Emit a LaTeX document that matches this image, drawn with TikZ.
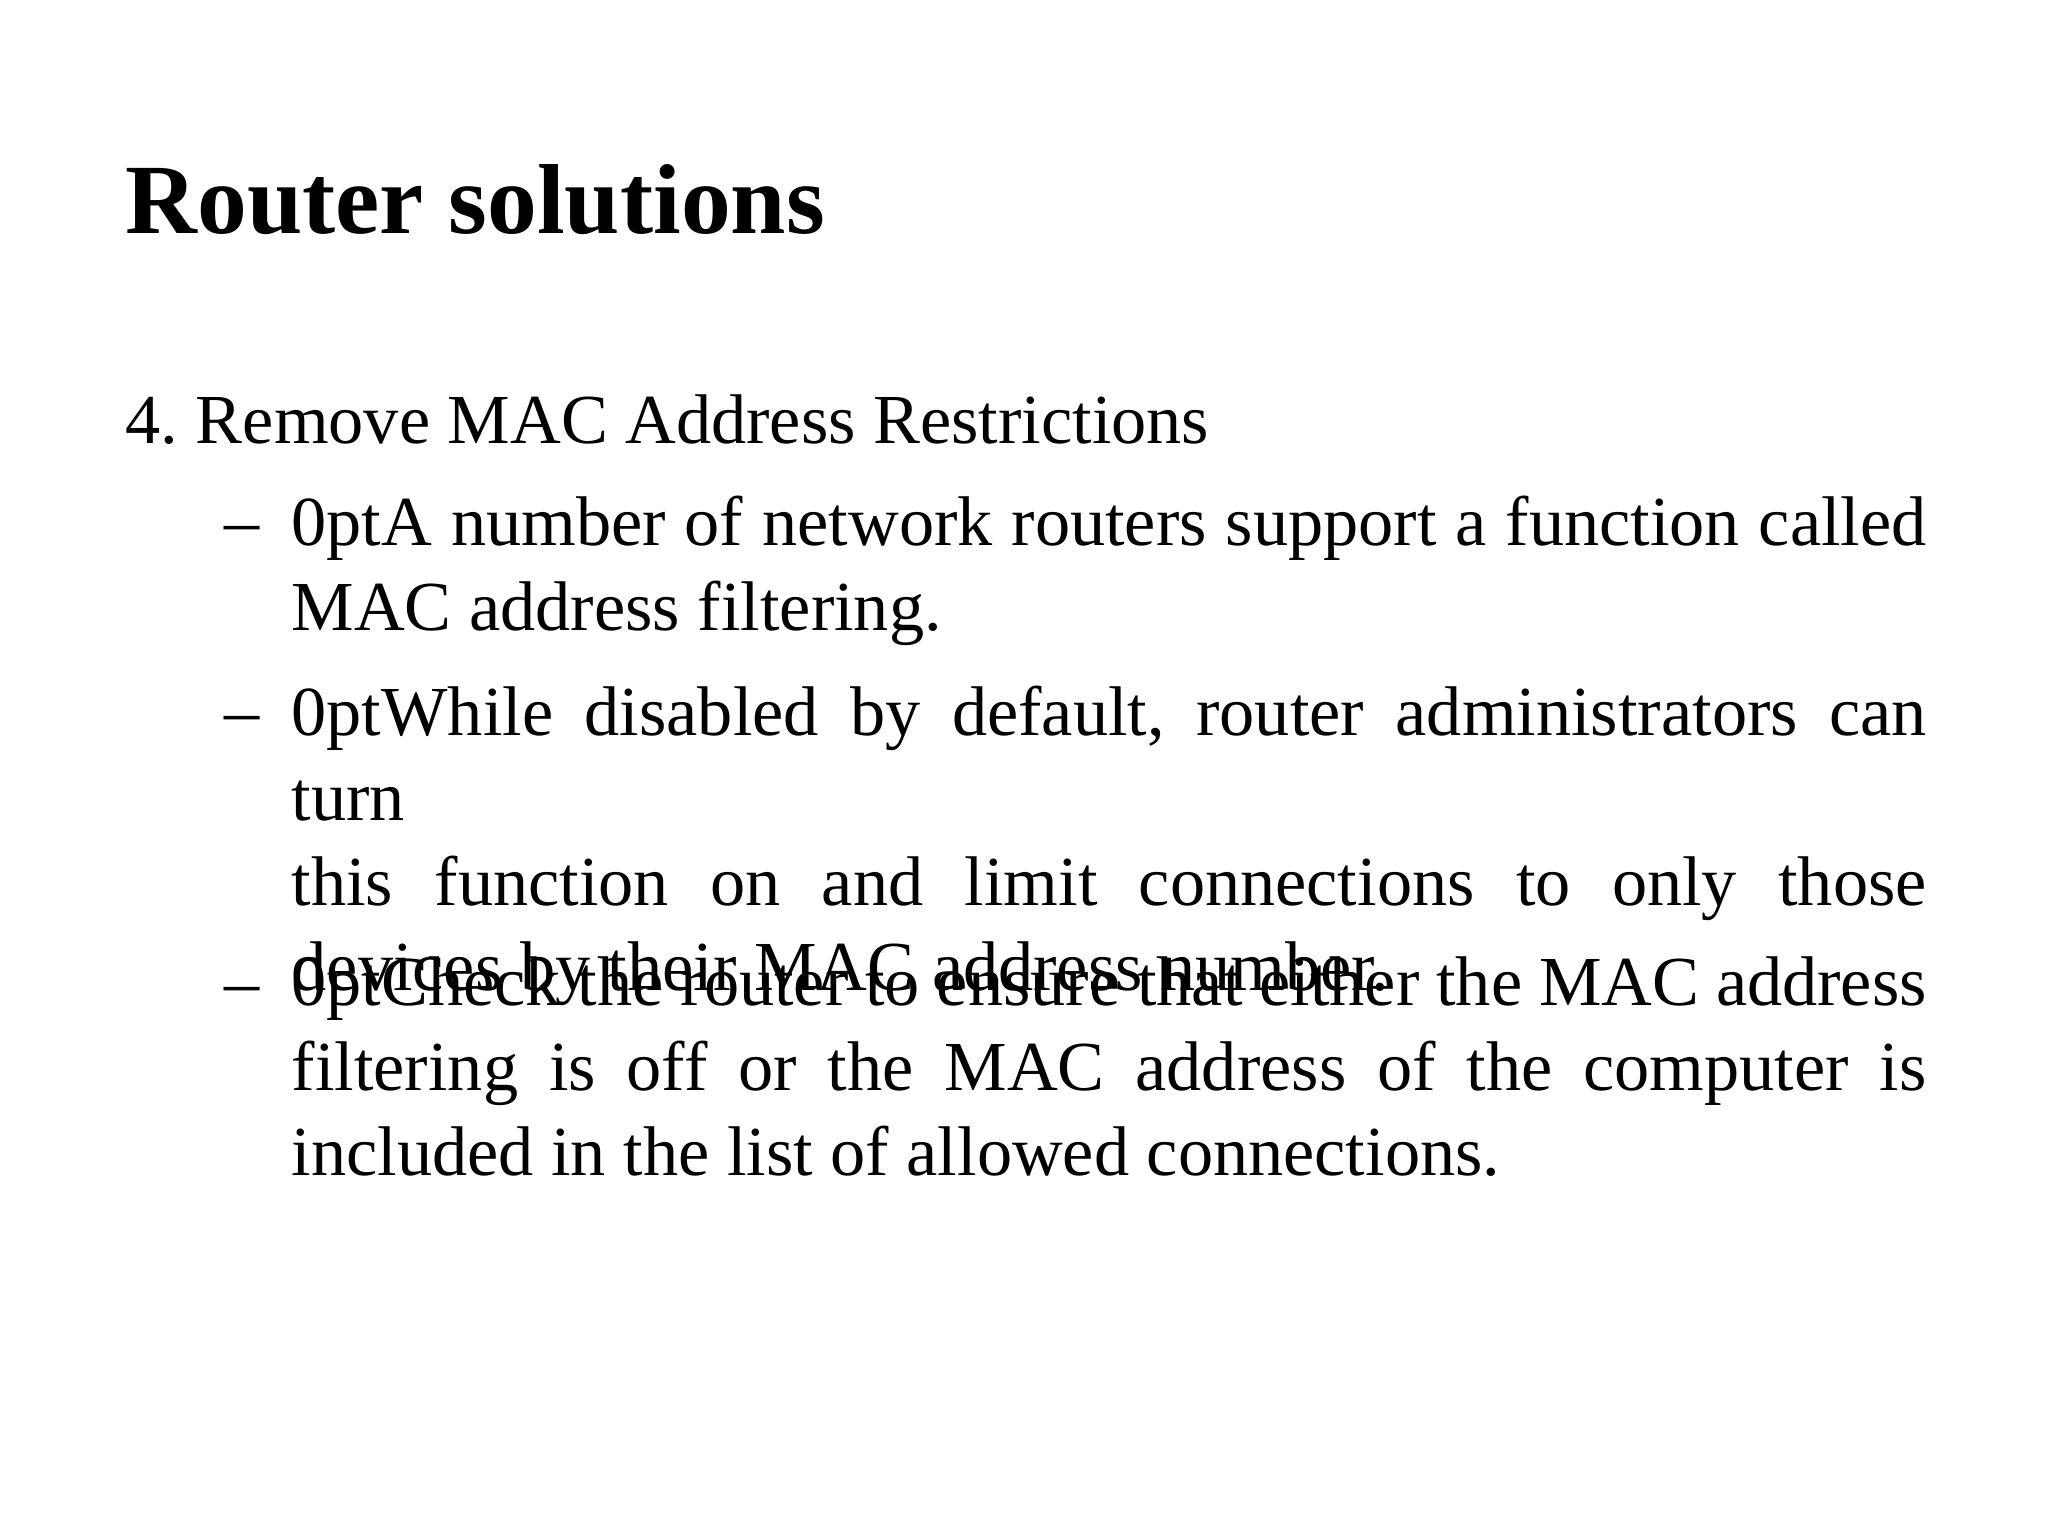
\documentclass[tikz,border=0pt]{standalone}
\usepackage{fontspec}
\setmainfont{Liberation Serif}
\frenchspacing
\begin{document}
\begin{tikzpicture}[x=1cm,y=1cm,
  bodytxt/.style={anchor=north west,inner sep=0pt,text width=16.35cm,align=justify,font=\fontsize{20pt}{24.2pt}\selectfont\hyphenpenalty=10000\exhyphenpenalty=10000},
  dashtxt/.style={anchor=base west,inner sep=0pt,font=\fontsize{20pt}{24.2pt}\selectfont}]
\useasboundingbox[fill=white] (0,0) rectangle (20.48,-15.36);
\node[anchor=base west,inner sep=0pt,font=\fontsize{28.3pt}{34pt}\selectfont\bfseries] (title) at (1.25,-2.34) {Router solutions};
\node[anchor=base west,inner sep=0pt,font=\fontsize{20pt}{24.2pt}\selectfont] (head) at (1.25,-4.44) {4. Remove MAC Address Restrictions};
\node[dashtxt] (d1) at (2.24,-5.45) {–};
\node[dashtxt] (d2) at (2.24,-7.35) {–};
\node[dashtxt] (d3) at (2.24,-10.05) {–};
\node[bodytxt] (b1) at (2.91,-4.855) {\strut A number of network routers support a function called\linebreak MAC address filtering.};
\node[bodytxt] (b2) at (2.91,-6.755) {\strut While disabled by default, router administrators can turn\linebreak this function on and limit connections to only those\linebreak devices by their MAC address number.};
\node[bodytxt] (b3) at (2.91,-9.455) {\strut Check the router to ensure that either the MAC address\linebreak filtering is off or the MAC address of the computer is\linebreak included in the list of allowed connections.};
\end{tikzpicture}
\end{document}
